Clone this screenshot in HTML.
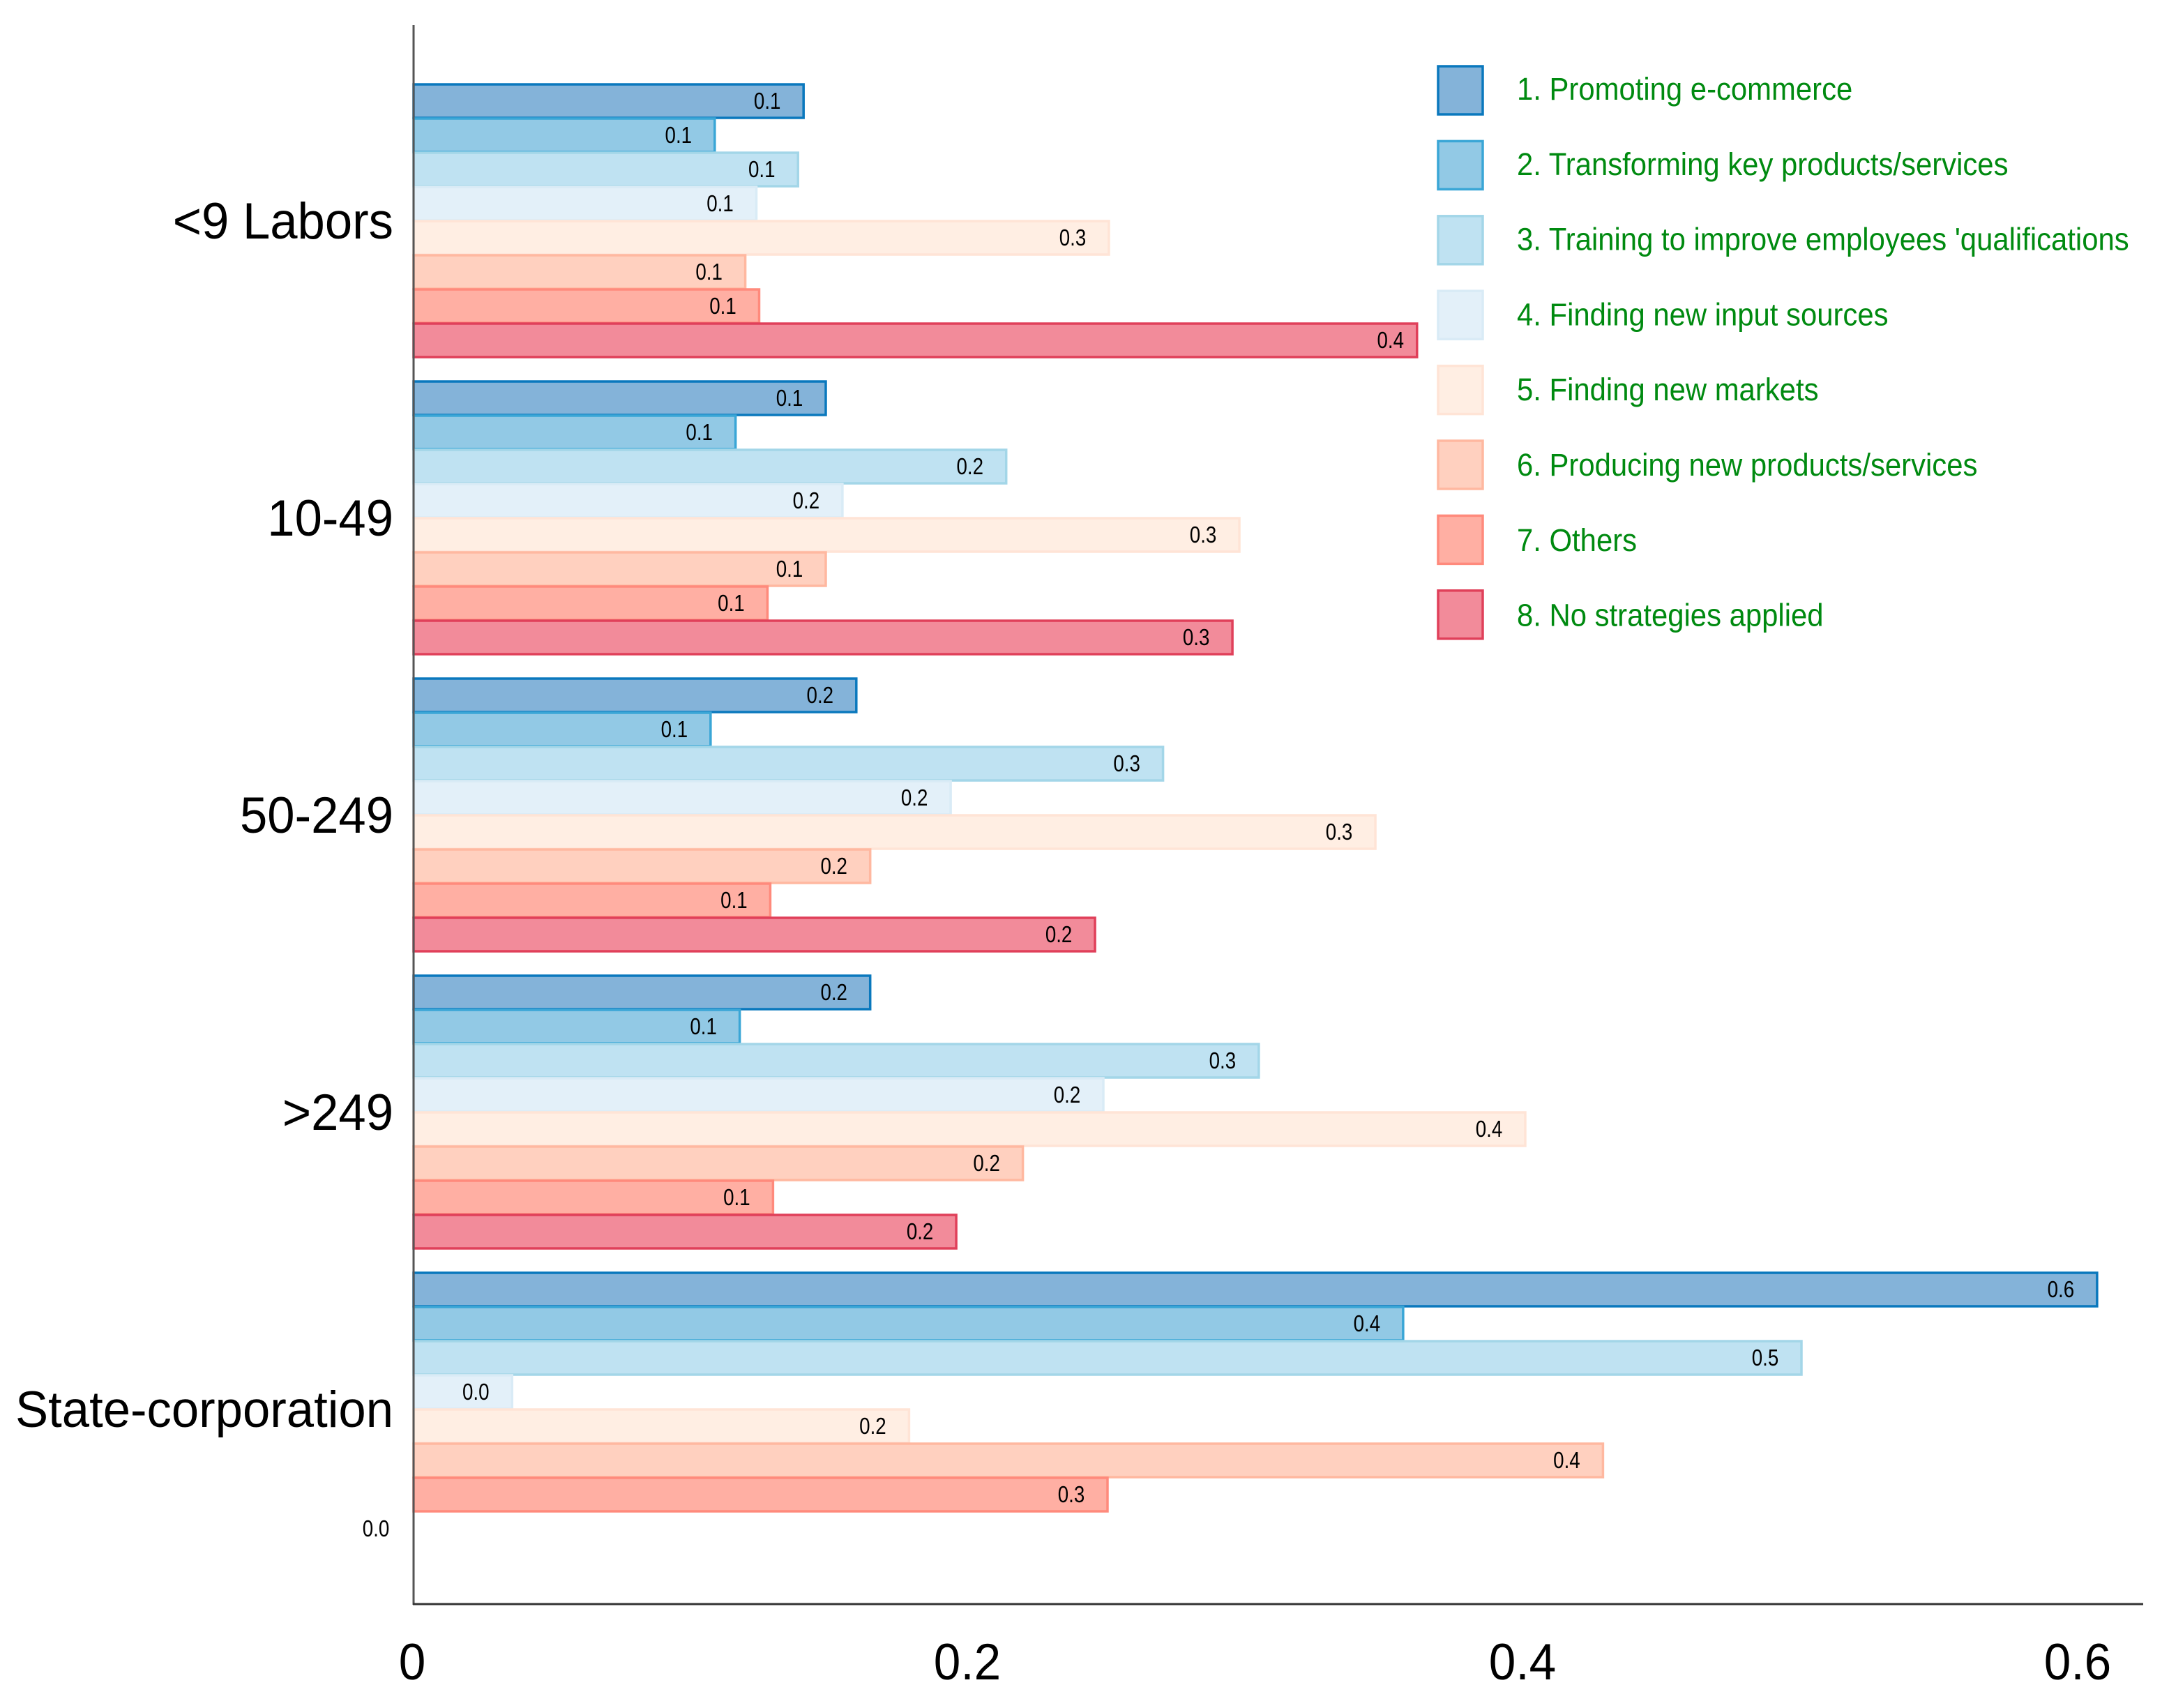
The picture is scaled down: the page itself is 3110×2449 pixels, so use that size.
<!DOCTYPE html>
<html lang="en">
<head>
<meta charset="utf-8">
<title>Strategies by enterprise size</title>
<style>
  html, body { margin: 0; padding: 0; background: #fff; }
  body { width: 3110px; height: 2449px; overflow: hidden; }
  svg { display: block; font-family: "Liberation Sans", sans-serif; }
  .s0 { fill: #84b3d9; stroke: #0a78bd; }
  .s1 { fill: #92c9e5; stroke: #3aa6d6; }
  .s2 { fill: #bfe2f2; stroke: #a3d6e8; }
  .s3 { fill: #e3f0f9; stroke: #d9ebf6; }
  .s4 { fill: #ffeee3; stroke: #ffe4d6; }
  .s5 { fill: #ffd0bf; stroke: #ffb8a0; }
  .s6 { fill: #ffafa3; stroke: #ff8a7c; }
  .s7 { fill: #f28b9a; stroke: #e0405a; }
  .legend-text { fill: #008a10; font-size: 45px; }
  .cat-text { fill: #000; font-size: 73px; }
  .tick-text { fill: #000; font-size: 73px; }
  .val-text { fill: #000; font-size: 33px; }
</style>
</head>
<body>
<svg id="chart" xmlns="http://www.w3.org/2000/svg" width="3110" height="2449" viewBox="0 0 3110 2449">
  <g id="bars"></g>
  <line x1="593" y1="36" x2="593" y2="2301" stroke="#555" stroke-width="3"></line>
  <line x1="592" y1="2300" x2="3073" y2="2300" stroke="#333" stroke-width="3"></line>
  <g id="labels"></g>
  <g id="categories"></g>
  <g id="ticks"></g>
  <g id="legend"></g>
</svg>
<script>
const categories = ["<9 Labors", "10-49", "50-249", ">249", "State-corporation"];
const seriesNames = [
  "1. Promoting e-commerce",
  "2. Transforming key products/services",
  "3. Training to improve employees 'qualifications",
  "4. Finding new input sources",
  "5. Finding new markets",
  "6. Producing new products/services",
  "7. Others",
  "8. No strategies applied"
];
const valuesUnder9 = [0.141, 0.109, 0.139, 0.124, 0.251, 0.120, 0.125, 0.362];
const values10to49 = [0.149, 0.1165, 0.214, 0.155, 0.298, 0.149, 0.128, 0.2955];
const values50to249 = [0.160, 0.1075, 0.2705, 0.194, 0.347, 0.165, 0.129, 0.246];
const valuesOver249 = [0.165, 0.118, 0.305, 0.249, 0.401, 0.220, 0.130, 0.196];
const valuesState = [0.607, 0.357, 0.5005, 0.036, 0.179, 0.429, 0.2505, 0.0];
const groupValues = [valuesUnder9, values10to49, values50to249, valuesOver249, valuesState];
const tickValues = [0, 0.2, 0.4, 0.6];
const tickLabels = ["0", "0.2", "0.4", "0.6"];

const NS = "http://www.w3.org/2000/svg";
const xOrigin = 593, xPerUnit = 3980;
const groupTop = 121, groupPitch = 426, rowPitch = 49;
function xScale(v) { return xOrigin + v * xPerUnit; }
function rowTop(g, s) { return groupTop + g * groupPitch + s * rowPitch; }
function addText(parent, cls, str, x, y, sx, anchor) {
  const t = document.createElementNS(NS, "text");
  t.setAttribute("class", cls);
  t.setAttribute("text-anchor", anchor);
  t.setAttribute("transform", "translate(" + x + "," + y + ") scale(" + sx + ",1)");
  t.textContent = str;
  parent.appendChild(t);
  return t;
}

const barsLayer = document.getElementById("bars");
const labelsLayer = document.getElementById("labels");
const catLayer = document.getElementById("categories");
const tickLayer = document.getElementById("ticks");
const legendLayer = document.getElementById("legend");

groupValues.forEach(function (vals, g) {
  vals.forEach(function (v, s) {
    const y = rowTop(g, s);
    const r = document.createElementNS(NS, "rect");
    
    
    r.setAttribute("class", "s" + s);
    r.setAttribute("x", xOrigin);
    r.setAttribute("y", y);
    r.setAttribute("width", Math.max(0, xScale(v) - xOrigin - 2));
    r.setAttribute("height", rowPitch - 1);
    r.setAttribute("stroke-width", v > 0 ? 3.5 : 0);
    barsLayer.appendChild(r);
    const labelGap = (g === 0 && s === 7) ? 40 : 54;
    const t = addText(labelsLayer, "val-text", v.toFixed(1), xScale(v) - labelGap, y + 35, 0.84, "middle");
    
    
  });
});

categories.forEach(function (c, g) {
  const t = addText(catLayer, "cat-text", c, 564, 342 + g * groupPitch, 0.968, "end");
  
  
});

tickValues.forEach(function (v, i) {
  const t = addText(tickLayer, "tick-text", tickLabels[i], xScale(v) - 2, 2408, 0.95, "middle");
  
  
});

seriesNames.forEach(function (n, i) {
  const sw = document.createElementNS(NS, "rect");
  
  
  sw.setAttribute("class", "s" + i);
  sw.setAttribute("x", 2062);
  sw.setAttribute("y", 95 + i * 107.4);
  sw.setAttribute("width", 64);
  sw.setAttribute("height", 69);
  sw.setAttribute("stroke-width", 3.5);
  legendLayer.appendChild(sw);
  const t = addText(legendLayer, "legend-text", n, 2175, 143 + i * 107.8, 0.93, "start");
  
  
});
</script>
</body>
</html>
